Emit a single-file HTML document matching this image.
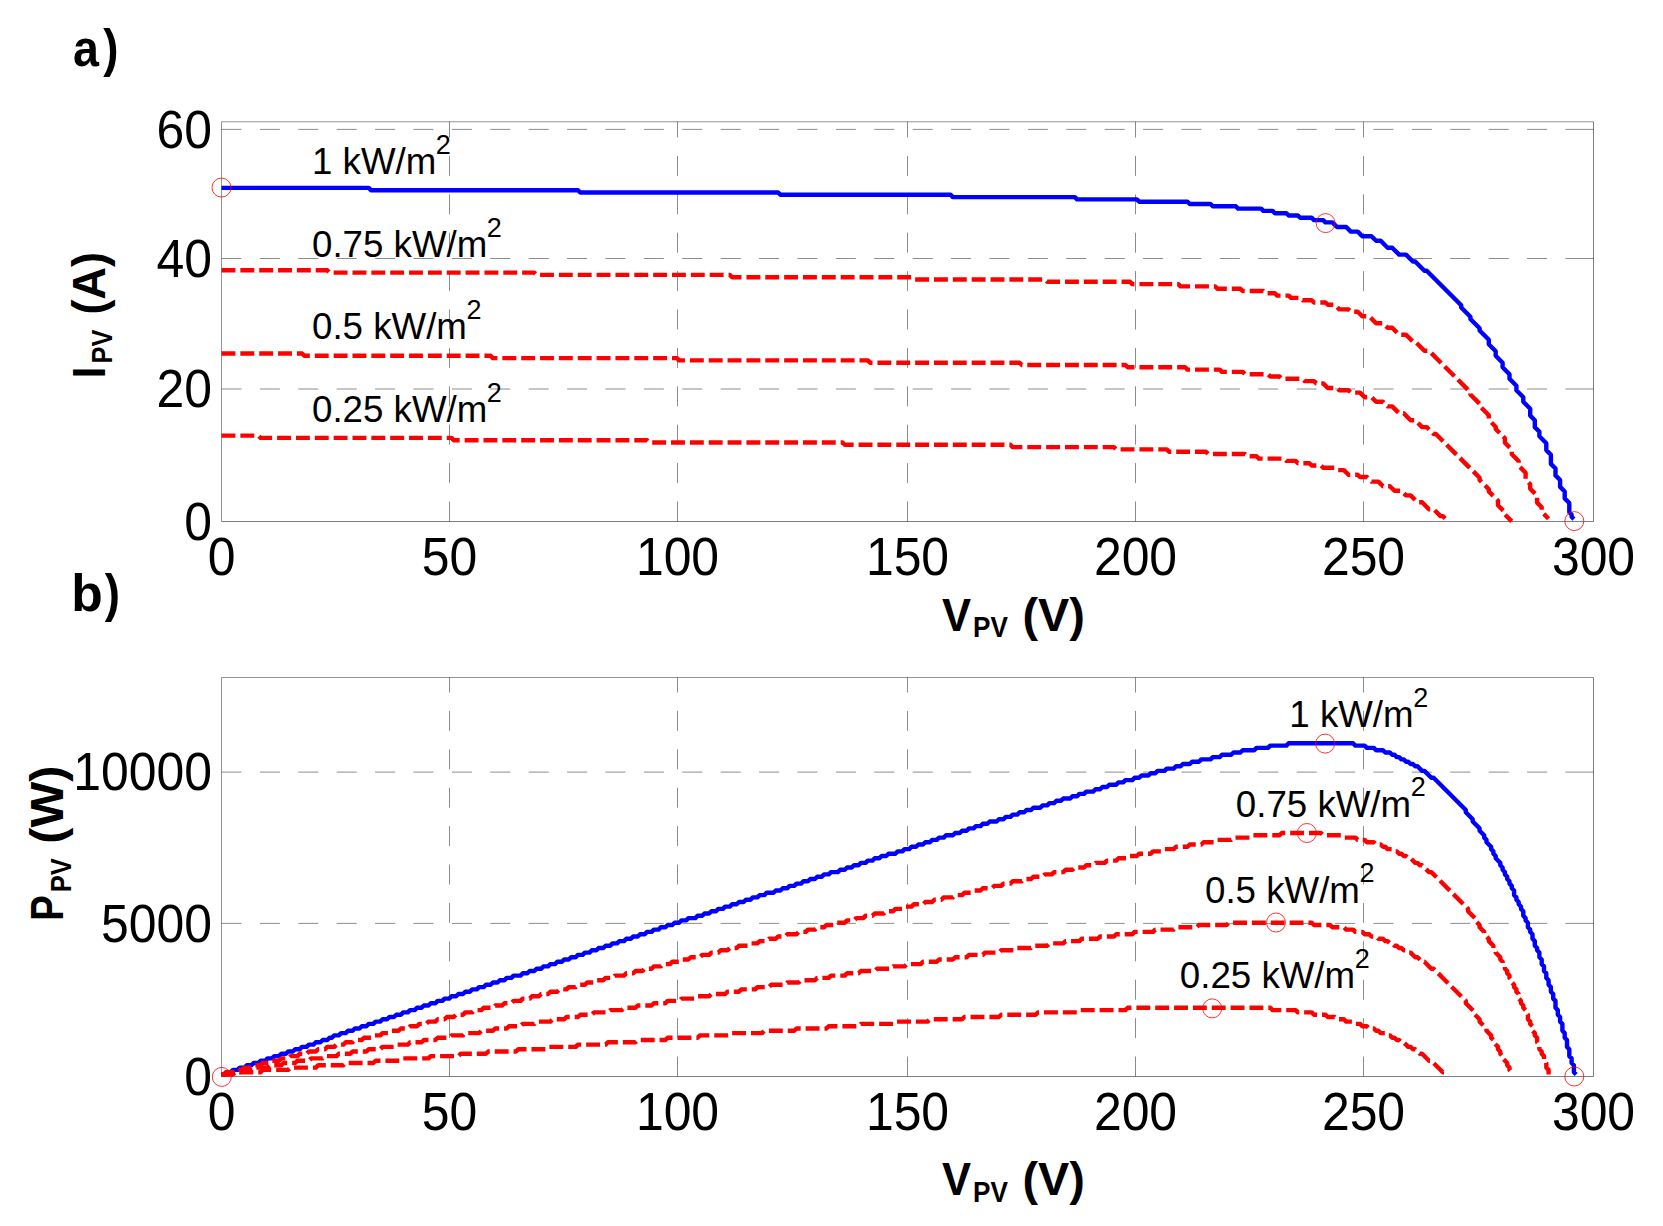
<!DOCTYPE html>
<html><head><meta charset="utf-8"><title>PV characteristics</title>
<style>html,body{margin:0;padding:0;background:#fff}body{width:1663px;height:1226px;overflow:hidden}</style>
</head><body>
<svg width="1663" height="1226" viewBox="0 0 1663 1226" style="display:block">
<rect width="1663" height="1226" fill="#fff"/>
<path d="M449.50 121.75V137.50M449.50 155.90V175.90M449.50 194.30V214.30M449.50 232.70V252.70M449.50 271.10V291.10M449.50 309.50V329.50M449.50 347.90V367.90M449.50 386.30V406.30M449.50 424.70V444.70M449.50 463.10V483.10M449.50 501.50V521.50" stroke="#000" stroke-opacity="0.45" stroke-width="1" fill="none"/>
<path d="M677.50 121.75V137.50M677.50 155.90V175.90M677.50 194.30V214.30M677.50 232.70V252.70M677.50 271.10V291.10M677.50 309.50V329.50M677.50 347.90V367.90M677.50 386.30V406.30M677.50 424.70V444.70M677.50 463.10V483.10M677.50 501.50V521.50" stroke="#000" stroke-opacity="0.45" stroke-width="1" fill="none"/>
<path d="M907.50 121.75V137.50M907.50 155.90V175.90M907.50 194.30V214.30M907.50 232.70V252.70M907.50 271.10V291.10M907.50 309.50V329.50M907.50 347.90V367.90M907.50 386.30V406.30M907.50 424.70V444.70M907.50 463.10V483.10M907.50 501.50V521.50" stroke="#000" stroke-opacity="0.45" stroke-width="1" fill="none"/>
<path d="M1135.50 121.75V137.50M1135.50 155.90V175.90M1135.50 194.30V214.30M1135.50 232.70V252.70M1135.50 271.10V291.10M1135.50 309.50V329.50M1135.50 347.90V367.90M1135.50 386.30V406.30M1135.50 424.70V444.70M1135.50 463.10V483.10M1135.50 501.50V521.50" stroke="#000" stroke-opacity="0.45" stroke-width="1" fill="none"/>
<path d="M1363.50 121.75V137.50M1363.50 155.90V175.90M1363.50 194.30V214.30M1363.50 232.70V252.70M1363.50 271.10V291.10M1363.50 309.50V329.50M1363.50 347.90V367.90M1363.50 386.30V406.30M1363.50 424.70V444.70M1363.50 463.10V483.10M1363.50 501.50V521.50" stroke="#000" stroke-opacity="0.45" stroke-width="1" fill="none"/>
<path d="M221.50 389.00H241.50M259.90 389.00H279.90M298.30 389.00H318.30M336.70 389.00H356.70M375.10 389.00H395.10M413.50 389.00H433.50M451.90 389.00H471.90M490.30 389.00H510.30M528.70 389.00H548.70M567.10 389.00H587.10M605.50 389.00H625.50M643.90 389.00H663.90M682.30 389.00H702.30M720.70 389.00H740.70M759.10 389.00H779.10M797.50 389.00H817.50M835.90 389.00H855.90M874.30 389.00H894.30M912.70 389.00H932.70M951.10 389.00H971.10M989.50 389.00H1009.50M1027.90 389.00H1047.90M1066.30 389.00H1086.30M1104.70 389.00H1124.70M1143.10 389.00H1163.10M1181.50 389.00H1201.50M1219.90 389.00H1239.90M1258.30 389.00H1278.30M1296.70 389.00H1316.70M1335.10 389.00H1355.10M1373.50 389.00H1393.50M1411.90 389.00H1431.90M1450.30 389.00H1470.30M1488.70 389.00H1508.70M1527.10 389.00H1547.10M1565.50 389.00H1593.50" stroke="#000" stroke-opacity="0.45" stroke-width="1" fill="none"/>
<path d="M221.50 258.50H241.50M259.90 258.50H279.90M298.30 258.50H318.30M336.70 258.50H356.70M375.10 258.50H395.10M413.50 258.50H433.50M451.90 258.50H471.90M490.30 258.50H510.30M528.70 258.50H548.70M567.10 258.50H587.10M605.50 258.50H625.50M643.90 258.50H663.90M682.30 258.50H702.30M720.70 258.50H740.70M759.10 258.50H779.10M797.50 258.50H817.50M835.90 258.50H855.90M874.30 258.50H894.30M912.70 258.50H932.70M951.10 258.50H971.10M989.50 258.50H1009.50M1027.90 258.50H1047.90M1066.30 258.50H1086.30M1104.70 258.50H1124.70M1143.10 258.50H1163.10M1181.50 258.50H1201.50M1219.90 258.50H1239.90M1258.30 258.50H1278.30M1296.70 258.50H1316.70M1335.10 258.50H1355.10M1373.50 258.50H1393.50M1411.90 258.50H1431.90M1450.30 258.50H1470.30M1488.70 258.50H1508.70M1527.10 258.50H1547.10M1565.50 258.50H1593.50" stroke="#000" stroke-opacity="0.45" stroke-width="1" fill="none"/>
<path d="M221.50 129.40H241.50M259.90 129.40H279.90M298.30 129.40H318.30M336.70 129.40H356.70M375.10 129.40H395.10M413.50 129.40H433.50M451.90 129.40H471.90M490.30 129.40H510.30M528.70 129.40H548.70M567.10 129.40H587.10M605.50 129.40H625.50M643.90 129.40H663.90M682.30 129.40H702.30M720.70 129.40H740.70M759.10 129.40H779.10M797.50 129.40H817.50M835.90 129.40H855.90M874.30 129.40H894.30M912.70 129.40H932.70M951.10 129.40H971.10M989.50 129.40H1009.50M1027.90 129.40H1047.90M1066.30 129.40H1086.30M1104.70 129.40H1124.70M1143.10 129.40H1163.10M1181.50 129.40H1201.50M1219.90 129.40H1239.90M1258.30 129.40H1278.30M1296.70 129.40H1316.70M1335.10 129.40H1355.10M1373.50 129.40H1393.50M1411.90 129.40H1431.90M1450.30 129.40H1470.30M1488.70 129.40H1508.70M1527.10 129.40H1547.10M1565.50 129.40H1593.50" stroke="#000" stroke-opacity="0.45" stroke-width="1" fill="none"/>
<path d="M221.50 521.50V121.75H1593.50" stroke="#000" stroke-opacity="0.42" stroke-width="1" fill="none"/>
<path d="M221.50 521.50H1593.50V121.75" stroke="#000" stroke-opacity="0.5" stroke-width="1" fill="none"/>
<path d="M449.50 677.50V692.50M449.50 710.90V730.90M449.50 749.30V769.30M449.50 787.70V807.70M449.50 826.10V846.10M449.50 864.50V884.50M449.50 902.90V922.90M449.50 941.30V961.30M449.50 979.70V999.70M449.50 1018.10V1038.10M449.50 1056.50V1076.50" stroke="#000" stroke-opacity="0.45" stroke-width="1" fill="none"/>
<path d="M677.50 677.50V692.50M677.50 710.90V730.90M677.50 749.30V769.30M677.50 787.70V807.70M677.50 826.10V846.10M677.50 864.50V884.50M677.50 902.90V922.90M677.50 941.30V961.30M677.50 979.70V999.70M677.50 1018.10V1038.10M677.50 1056.50V1076.50" stroke="#000" stroke-opacity="0.45" stroke-width="1" fill="none"/>
<path d="M907.50 677.50V692.50M907.50 710.90V730.90M907.50 749.30V769.30M907.50 787.70V807.70M907.50 826.10V846.10M907.50 864.50V884.50M907.50 902.90V922.90M907.50 941.30V961.30M907.50 979.70V999.70M907.50 1018.10V1038.10M907.50 1056.50V1076.50" stroke="#000" stroke-opacity="0.45" stroke-width="1" fill="none"/>
<path d="M1135.50 677.50V692.50M1135.50 710.90V730.90M1135.50 749.30V769.30M1135.50 787.70V807.70M1135.50 826.10V846.10M1135.50 864.50V884.50M1135.50 902.90V922.90M1135.50 941.30V961.30M1135.50 979.70V999.70M1135.50 1018.10V1038.10M1135.50 1056.50V1076.50" stroke="#000" stroke-opacity="0.45" stroke-width="1" fill="none"/>
<path d="M1363.50 677.50V692.50M1363.50 710.90V730.90M1363.50 749.30V769.30M1363.50 787.70V807.70M1363.50 826.10V846.10M1363.50 864.50V884.50M1363.50 902.90V922.90M1363.50 941.30V961.30M1363.50 979.70V999.70M1363.50 1018.10V1038.10M1363.50 1056.50V1076.50" stroke="#000" stroke-opacity="0.45" stroke-width="1" fill="none"/>
<path d="M221.50 923.40H241.50M259.90 923.40H279.90M298.30 923.40H318.30M336.70 923.40H356.70M375.10 923.40H395.10M413.50 923.40H433.50M451.90 923.40H471.90M490.30 923.40H510.30M528.70 923.40H548.70M567.10 923.40H587.10M605.50 923.40H625.50M643.90 923.40H663.90M682.30 923.40H702.30M720.70 923.40H740.70M759.10 923.40H779.10M797.50 923.40H817.50M835.90 923.40H855.90M874.30 923.40H894.30M912.70 923.40H932.70M951.10 923.40H971.10M989.50 923.40H1009.50M1027.90 923.40H1047.90M1066.30 923.40H1086.30M1104.70 923.40H1124.70M1143.10 923.40H1163.10M1181.50 923.40H1201.50M1219.90 923.40H1239.90M1258.30 923.40H1278.30M1296.70 923.40H1316.70M1335.10 923.40H1355.10M1373.50 923.40H1393.50M1411.90 923.40H1431.90M1450.30 923.40H1470.30M1488.70 923.40H1508.70M1527.10 923.40H1547.10M1565.50 923.40H1593.50" stroke="#000" stroke-opacity="0.45" stroke-width="1" fill="none"/>
<path d="M221.50 772.10H241.50M259.90 772.10H279.90M298.30 772.10H318.30M336.70 772.10H356.70M375.10 772.10H395.10M413.50 772.10H433.50M451.90 772.10H471.90M490.30 772.10H510.30M528.70 772.10H548.70M567.10 772.10H587.10M605.50 772.10H625.50M643.90 772.10H663.90M682.30 772.10H702.30M720.70 772.10H740.70M759.10 772.10H779.10M797.50 772.10H817.50M835.90 772.10H855.90M874.30 772.10H894.30M912.70 772.10H932.70M951.10 772.10H971.10M989.50 772.10H1009.50M1027.90 772.10H1047.90M1066.30 772.10H1086.30M1104.70 772.10H1124.70M1143.10 772.10H1163.10M1181.50 772.10H1201.50M1219.90 772.10H1239.90M1258.30 772.10H1278.30M1296.70 772.10H1316.70M1335.10 772.10H1355.10M1373.50 772.10H1393.50M1411.90 772.10H1431.90M1450.30 772.10H1470.30M1488.70 772.10H1508.70M1527.10 772.10H1547.10M1565.50 772.10H1593.50" stroke="#000" stroke-opacity="0.45" stroke-width="1" fill="none"/>
<path d="M221.50 1076.50V677.50H1593.50" stroke="#000" stroke-opacity="0.42" stroke-width="1" fill="none"/>
<path d="M221.50 1076.50H1593.50V677.50" stroke="#000" stroke-opacity="0.5" stroke-width="1" fill="none"/>
<path d="M221.50 187.90 L368.70 187.90 L371.00 190.20 L578.00 190.20 L580.30 192.50 L778.10 192.50 L780.40 194.80 L950.60 194.80 L952.90 197.10 L1074.80 197.10 L1077.10 199.40 L1136.90 199.40 L1139.20 201.70 L1187.50 201.70 L1189.80 204.00 L1210.50 204.00 L1212.80 206.30 L1235.80 206.30 L1238.10 208.60 L1261.10 208.60 L1263.40 210.90 L1272.60 210.90 L1274.90 213.20 L1286.40 213.20 L1288.70 215.50 L1297.90 215.50 L1300.20 217.80 L1311.70 217.80 L1314.00 220.10 L1323.20 220.10 L1325.50 222.40 L1332.40 222.40 L1337.00 227.00 L1346.20 227.00 L1350.80 231.60 L1357.70 231.60 L1362.30 236.20 L1371.50 236.20 L1376.10 240.80 L1380.70 240.80 L1387.60 247.70 L1392.20 247.70 L1399.10 254.60 L1406.00 254.60 L1412.90 261.50 L1415.20 261.50 L1424.40 270.70 L1426.70 270.70 L1461.20 305.20 L1461.20 307.50 L1470.40 316.70 L1470.40 319.00 L1479.60 328.20 L1479.60 330.50 L1488.80 339.70 L1488.80 344.30 L1495.70 351.20 L1495.70 355.80 L1502.60 362.70 L1502.60 367.30 L1509.50 374.20 L1509.50 378.80 L1516.40 385.70 L1516.40 390.30 L1523.30 397.20 L1523.30 401.80 L1530.20 408.70 L1530.20 415.60 L1534.80 420.20 L1534.80 427.10 L1539.40 431.70 L1539.40 436.30 L1546.30 443.20 L1546.30 450.10 L1550.90 454.70 L1550.90 463.90 L1555.50 468.50 L1555.50 475.40 L1560.10 480.00 L1560.10 486.90 L1564.70 491.50 L1564.70 498.40 L1569.30 503.00 L1569.30 512.20 L1571.60 514.50 L1571.60 516.80 L1573.90 519.10" stroke="#0000ff" stroke-width="4.4" fill="none" stroke-linejoin="round"/>
<path d="M221.50 270.30 L327.30 270.30 L329.60 272.60 L534.30 272.60 L536.60 274.90 L729.80 274.90 L732.10 277.20 L911.50 277.20 L913.80 279.50 L1044.90 279.50 L1047.20 281.80 L1130.00 281.80 L1132.30 284.10 L1178.30 284.10 L1180.60 286.40 L1215.10 286.40 L1217.40 288.70 L1240.40 288.70 L1242.70 291.00 L1263.40 291.00 L1265.70 293.30 L1274.90 293.30 L1277.20 295.60 L1288.70 295.60 L1291.00 297.90 L1300.20 297.90 L1302.50 300.20 L1311.70 300.20 L1314.00 302.50 L1325.50 302.50 L1327.80 304.80 L1334.70 304.80 L1339.30 309.40 L1348.50 309.40 L1350.80 311.70 L1357.70 311.70 L1362.30 316.30 L1369.20 316.30 L1376.10 323.20 L1383.00 323.20 L1387.60 327.80 L1392.20 327.80 L1399.10 334.70 L1406.00 334.70 L1412.90 341.60 L1415.20 341.60 L1424.40 350.80 L1429.00 350.80 L1470.40 392.20 L1470.40 394.50 L1479.60 403.70 L1479.60 406.00 L1488.80 415.20 L1488.80 419.80 L1495.70 426.70 L1495.70 429.00 L1504.90 438.20 L1504.90 442.80 L1511.80 449.70 L1511.80 454.30 L1518.70 461.20 L1518.70 465.80 L1525.60 472.70 L1525.60 479.60 L1530.20 484.20 L1530.20 488.80 L1537.10 495.70 L1537.10 502.60 L1541.70 507.20 L1541.70 511.80 L1548.60 518.70" stroke="#ff0000" stroke-width="4.4" fill="none" stroke-linejoin="round" stroke-dasharray="13.9 4.95"/>
<path d="M221.50 353.50 L302.00 353.50 L304.30 355.80 L490.60 355.80 L492.90 358.10 L676.90 358.10 L679.20 360.40 L867.80 360.40 L870.10 362.70 L1019.60 362.70 L1021.90 365.00 L1125.40 365.00 L1127.70 367.30 L1185.20 367.30 L1187.50 369.60 L1219.70 369.60 L1222.00 371.90 L1242.70 371.90 L1245.00 374.20 L1268.00 374.20 L1270.30 376.50 L1279.50 376.50 L1281.80 378.80 L1302.50 378.80 L1304.80 381.10 L1314.00 381.10 L1316.30 383.40 L1323.20 383.40 L1327.80 388.00 L1337.00 388.00 L1339.30 390.30 L1348.50 390.30 L1350.80 392.60 L1360.00 392.60 L1364.60 397.20 L1371.50 397.20 L1376.10 401.80 L1383.00 401.80 L1387.60 406.40 L1392.20 406.40 L1399.10 413.30 L1403.70 413.30 L1410.60 420.20 L1415.20 420.20 L1422.10 427.10 L1426.70 427.10 L1433.60 434.00 L1435.90 434.00 L1479.60 477.70 L1479.60 480.00 L1488.80 489.20 L1488.80 491.50 L1498.00 500.70 L1498.00 505.30 L1504.90 512.20 L1504.90 514.50 L1511.80 521.40" stroke="#ff0000" stroke-width="4.4" fill="none" stroke-linejoin="round" stroke-dasharray="13.9 4.95"/>
<path d="M221.50 435.60 L258.30 435.60 L260.60 437.90 L451.50 437.90 L453.80 440.20 L647.00 440.20 L649.30 442.50 L842.50 442.50 L844.80 444.80 L1010.40 444.80 L1012.70 447.10 L1113.90 447.10 L1116.20 449.40 L1166.80 449.40 L1169.10 451.70 L1205.90 451.70 L1208.20 454.00 L1245.00 454.00 L1247.30 456.30 L1256.50 456.30 L1258.80 458.60 L1284.10 458.60 L1286.40 460.90 L1295.60 460.90 L1297.90 463.20 L1309.40 463.20 L1311.70 465.50 L1320.90 465.50 L1323.20 467.80 L1334.70 467.80 L1337.00 470.10 L1343.90 470.10 L1348.50 474.70 L1357.70 474.70 L1360.00 477.00 L1366.90 477.00 L1371.50 481.60 L1378.40 481.60 L1383.00 486.20 L1389.90 486.20 L1394.50 490.80 L1401.40 490.80 L1406.00 495.40 L1410.60 495.40 L1417.50 502.30 L1422.10 502.30 L1429.00 509.20 L1433.60 509.20 L1440.50 516.10 L1442.80 516.10 L1447.40 520.70" stroke="#ff0000" stroke-width="4.4" fill="none" stroke-linejoin="round" stroke-dasharray="13.9 4.95"/>
<path d="M221.50 1074.50 L223.80 1074.50 L226.10 1072.20 L230.70 1072.20 L233.00 1069.90 L237.60 1069.90 L239.90 1067.60 L244.50 1067.60 L246.80 1065.30 L251.40 1065.30 L253.70 1063.00 L258.30 1063.00 L260.60 1060.70 L265.20 1060.70 L267.50 1058.40 L272.10 1058.40 L274.40 1056.10 L279.00 1056.10 L281.30 1053.80 L285.90 1053.80 L288.20 1051.50 L292.80 1051.50 L295.10 1049.20 L299.70 1049.20 L302.00 1046.90 L306.60 1046.90 L308.90 1044.60 L313.50 1044.60 L315.80 1042.30 L320.40 1042.30 L322.70 1040.00 L327.30 1040.00 L329.60 1037.70 L331.90 1037.70 L334.20 1035.40 L338.80 1035.40 L341.10 1033.10 L345.70 1033.10 L348.00 1030.80 L352.60 1030.80 L354.90 1028.50 L359.50 1028.50 L361.80 1026.20 L366.40 1026.20 L368.70 1023.90 L373.30 1023.90 L375.60 1021.60 L380.20 1021.60 L382.50 1019.30 L387.10 1019.30 L389.40 1017.00 L394.00 1017.00 L396.30 1014.70 L400.90 1014.70 L403.20 1012.40 L407.80 1012.40 L410.10 1010.10 L414.70 1010.10 L417.00 1007.80 L421.60 1007.80 L423.90 1005.50 L428.50 1005.50 L430.80 1003.20 L435.40 1003.20 L437.70 1000.90 L442.30 1000.90 L444.60 998.60 L449.20 998.60 L451.50 996.30 L456.10 996.30 L458.40 994.00 L463.00 994.00 L465.30 991.70 L469.90 991.70 L472.20 989.40 L476.80 989.40 L479.10 987.10 L483.70 987.10 L486.00 984.80 L490.60 984.80 L492.90 982.50 L497.50 982.50 L499.80 980.20 L504.40 980.20 L506.70 977.90 L511.30 977.90 L513.60 975.60 L520.50 975.60 L522.80 973.30 L527.40 973.30 L529.70 971.00 L534.30 971.00 L536.60 968.70 L541.20 968.70 L543.50 966.40 L548.10 966.40 L550.40 964.10 L555.00 964.10 L557.30 961.80 L561.90 961.80 L564.20 959.50 L568.80 959.50 L571.10 957.20 L575.70 957.20 L578.00 954.90 L582.60 954.90 L584.90 952.60 L589.50 952.60 L591.80 950.30 L596.40 950.30 L598.70 948.00 L603.30 948.00 L605.60 945.70 L610.20 945.70 L612.50 943.40 L617.10 943.40 L619.40 941.10 L624.00 941.10 L626.30 938.80 L630.90 938.80 L633.20 936.50 L637.80 936.50 L640.10 934.20 L644.70 934.20 L647.00 931.90 L651.60 931.90 L653.90 929.60 L658.50 929.60 L660.80 927.30 L665.40 927.30 L667.70 925.00 L672.30 925.00 L674.60 922.70 L679.20 922.70 L681.50 920.40 L686.10 920.40 L688.40 918.10 L695.30 918.10 L697.60 915.80 L702.20 915.80 L704.50 913.50 L709.10 913.50 L711.40 911.20 L716.00 911.20 L718.30 908.90 L722.90 908.90 L725.20 906.60 L729.80 906.60 L732.10 904.30 L736.70 904.30 L739.00 902.00 L743.60 902.00 L745.90 899.70 L750.50 899.70 L752.80 897.40 L757.40 897.40 L759.70 895.10 L764.30 895.10 L766.60 892.80 L773.50 892.80 L775.80 890.50 L780.40 890.50 L782.70 888.20 L787.30 888.20 L789.60 885.90 L794.20 885.90 L796.50 883.60 L801.10 883.60 L803.40 881.30 L808.00 881.30 L810.30 879.00 L814.90 879.00 L817.20 876.70 L821.80 876.70 L824.10 874.40 L828.70 874.40 L831.00 872.10 L837.90 872.10 L840.20 869.80 L844.80 869.80 L847.10 867.50 L851.70 867.50 L854.00 865.20 L858.60 865.20 L860.90 862.90 L865.50 862.90 L867.80 860.60 L872.40 860.60 L874.70 858.30 L879.30 858.30 L881.60 856.00 L886.20 856.00 L888.50 853.70 L895.40 853.70 L897.70 851.40 L902.30 851.40 L904.60 849.10 L909.20 849.10 L911.50 846.80 L916.10 846.80 L918.40 844.50 L923.00 844.50 L925.30 842.20 L929.90 842.20 L932.20 839.90 L936.80 839.90 L939.10 837.60 L943.70 837.60 L946.00 835.30 L952.90 835.30 L955.20 833.00 L959.80 833.00 L962.10 830.70 L966.70 830.70 L969.00 828.40 L973.60 828.40 L975.90 826.10 L980.50 826.10 L982.80 823.80 L987.40 823.80 L989.70 821.50 L996.60 821.50 L998.90 819.20 L1003.50 819.20 L1005.80 816.90 L1010.40 816.90 L1012.70 814.60 L1017.30 814.60 L1019.60 812.30 L1024.20 812.30 L1026.50 810.00 L1031.10 810.00 L1033.40 807.70 L1040.30 807.70 L1042.60 805.40 L1047.20 805.40 L1049.50 803.10 L1054.10 803.10 L1056.40 800.80 L1061.00 800.80 L1063.30 798.50 L1070.20 798.50 L1072.50 796.20 L1077.10 796.20 L1079.40 793.90 L1084.00 793.90 L1086.30 791.60 L1093.20 791.60 L1095.50 789.30 L1100.10 789.30 L1102.40 787.00 L1107.00 787.00 L1109.30 784.70 L1116.20 784.70 L1118.50 782.40 L1123.10 782.40 L1125.40 780.10 L1132.30 780.10 L1134.60 777.80 L1139.20 777.80 L1141.50 775.50 L1148.40 775.50 L1150.70 773.20 L1155.30 773.20 L1157.60 770.90 L1164.50 770.90 L1166.80 768.60 L1173.70 768.60 L1176.00 766.30 L1180.60 766.30 L1182.90 764.00 L1189.80 764.00 L1192.10 761.70 L1199.00 761.70 L1201.30 759.40 L1210.50 759.40 L1212.80 757.10 L1219.70 757.10 L1222.00 754.80 L1231.20 754.80 L1233.50 752.50 L1240.40 752.50 L1242.70 750.20 L1254.20 750.20 L1256.50 747.90 L1268.00 747.90 L1270.30 745.60 L1286.40 745.60 L1288.70 743.30 L1353.10 743.30 L1355.40 745.60 L1364.60 745.60 L1366.90 747.90 L1373.80 747.90 L1376.10 750.20 L1383.00 750.20 L1385.30 752.50 L1389.90 752.50 L1392.20 754.80 L1394.50 754.80 L1396.80 757.10 L1399.10 757.10 L1401.40 759.40 L1403.70 759.40 L1406.00 761.70 L1408.30 761.70 L1410.60 764.00 L1412.90 764.00 L1415.20 766.30 L1417.50 766.30 L1422.10 770.90 L1424.40 770.90 L1431.30 777.80 L1433.60 777.80 L1465.80 810.00 L1465.80 812.30 L1472.70 819.20 L1472.70 821.50 L1479.60 828.40 L1479.60 830.70 L1484.20 835.30 L1484.20 837.60 L1486.50 839.90 L1486.50 842.20 L1491.10 846.80 L1491.10 849.10 L1493.40 851.40 L1493.40 853.70 L1495.70 856.00 L1495.70 858.30 L1500.30 862.90 L1500.30 865.20 L1502.60 867.50 L1502.60 869.80 L1504.90 872.10 L1504.90 874.40 L1507.20 876.70 L1507.20 879.00 L1509.50 881.30 L1509.50 883.60 L1511.80 885.90 L1511.80 888.20 L1514.10 890.50 L1514.10 895.10 L1516.40 897.40 L1516.40 899.70 L1518.70 902.00 L1518.70 904.30 L1521.00 906.60 L1521.00 908.90 L1523.30 911.20 L1523.30 915.80 L1525.60 918.10 L1525.60 920.40 L1527.90 922.70 L1527.90 927.30 L1530.20 929.60 L1530.20 931.90 L1532.50 934.20 L1532.50 938.80 L1534.80 941.10 L1534.80 945.70 L1537.10 948.00 L1537.10 950.30 L1539.40 952.60 L1539.40 957.20 L1541.70 959.50 L1541.70 964.10 L1544.00 966.40 L1544.00 971.00 L1546.30 973.30 L1546.30 977.90 L1548.60 980.20 L1548.60 984.80 L1550.90 987.10 L1550.90 991.70 L1553.20 994.00 L1553.20 998.60 L1555.50 1000.90 L1555.50 1007.80 L1557.80 1010.10 L1557.80 1014.70 L1560.10 1017.00 L1560.10 1021.60 L1562.40 1023.90 L1562.40 1030.80 L1564.70 1033.10 L1564.70 1037.70 L1567.00 1040.00 L1567.00 1046.90 L1569.30 1049.20 L1569.30 1056.10 L1571.60 1058.40 L1571.60 1063.00 L1573.90 1065.30 L1573.90 1072.20 L1576.20 1074.50" stroke="#0000ff" stroke-width="4.4" fill="none" stroke-linejoin="round"/>
<path d="M221.50 1074.50 L223.80 1074.50 L226.10 1072.20 L233.00 1072.20 L235.30 1069.90 L242.20 1069.90 L244.50 1067.60 L251.40 1067.60 L253.70 1065.30 L260.60 1065.30 L262.90 1063.00 L269.80 1063.00 L272.10 1060.70 L279.00 1060.70 L281.30 1058.40 L288.20 1058.40 L290.50 1056.10 L297.40 1056.10 L299.70 1053.80 L306.60 1053.80 L308.90 1051.50 L315.80 1051.50 L318.10 1049.20 L325.00 1049.20 L327.30 1046.90 L334.20 1046.90 L336.50 1044.60 L343.40 1044.60 L345.70 1042.30 L352.60 1042.30 L354.90 1040.00 L361.80 1040.00 L364.10 1037.70 L371.00 1037.70 L373.30 1035.40 L380.20 1035.40 L382.50 1033.10 L389.40 1033.10 L391.70 1030.80 L398.60 1030.80 L400.90 1028.50 L407.80 1028.50 L410.10 1026.20 L417.00 1026.20 L419.30 1023.90 L426.20 1023.90 L428.50 1021.60 L435.40 1021.60 L437.70 1019.30 L444.60 1019.30 L446.90 1017.00 L453.80 1017.00 L456.10 1014.70 L463.00 1014.70 L465.30 1012.40 L472.20 1012.40 L474.50 1010.10 L481.40 1010.10 L483.70 1007.80 L492.90 1007.80 L495.20 1005.50 L502.10 1005.50 L504.40 1003.20 L511.30 1003.20 L513.60 1000.90 L520.50 1000.90 L522.80 998.60 L529.70 998.60 L532.00 996.30 L538.90 996.30 L541.20 994.00 L548.10 994.00 L550.40 991.70 L557.30 991.70 L559.60 989.40 L566.50 989.40 L568.80 987.10 L575.70 987.10 L578.00 984.80 L584.90 984.80 L587.20 982.50 L594.10 982.50 L596.40 980.20 L603.30 980.20 L605.60 977.90 L612.50 977.90 L614.80 975.60 L624.00 975.60 L626.30 973.30 L633.20 973.30 L635.50 971.00 L642.40 971.00 L644.70 968.70 L651.60 968.70 L653.90 966.40 L660.80 966.40 L663.10 964.10 L670.00 964.10 L672.30 961.80 L679.20 961.80 L681.50 959.50 L688.40 959.50 L690.70 957.20 L699.90 957.20 L702.20 954.90 L709.10 954.90 L711.40 952.60 L718.30 952.60 L720.60 950.30 L727.50 950.30 L729.80 948.00 L736.70 948.00 L739.00 945.70 L748.20 945.70 L750.50 943.40 L757.40 943.40 L759.70 941.10 L766.60 941.10 L768.90 938.80 L775.80 938.80 L778.10 936.50 L785.00 936.50 L787.30 934.20 L796.50 934.20 L798.80 931.90 L805.70 931.90 L808.00 929.60 L814.90 929.60 L817.20 927.30 L824.10 927.30 L826.40 925.00 L833.30 925.00 L835.60 922.70 L844.80 922.70 L847.10 920.40 L854.00 920.40 L856.30 918.10 L863.20 918.10 L865.50 915.80 L872.40 915.80 L874.70 913.50 L883.90 913.50 L886.20 911.20 L893.10 911.20 L895.40 908.90 L902.30 908.90 L904.60 906.60 L911.50 906.60 L913.80 904.30 L923.00 904.30 L925.30 902.00 L932.20 902.00 L934.50 899.70 L941.40 899.70 L943.70 897.40 L952.90 897.40 L955.20 895.10 L962.10 895.10 L964.40 892.80 L971.30 892.80 L973.60 890.50 L980.50 890.50 L982.80 888.20 L992.00 888.20 L994.30 885.90 L1001.20 885.90 L1003.50 883.60 L1010.40 883.60 L1012.70 881.30 L1021.90 881.30 L1024.20 879.00 L1031.10 879.00 L1033.40 876.70 L1042.60 876.70 L1044.90 874.40 L1051.80 874.40 L1054.10 872.10 L1063.30 872.10 L1065.60 869.80 L1072.50 869.80 L1074.80 867.50 L1084.00 867.50 L1086.30 865.20 L1093.20 865.20 L1095.50 862.90 L1104.70 862.90 L1107.00 860.60 L1116.20 860.60 L1118.50 858.30 L1127.70 858.30 L1130.00 856.00 L1136.90 856.00 L1139.20 853.70 L1150.70 853.70 L1153.00 851.40 L1162.20 851.40 L1164.50 849.10 L1173.70 849.10 L1176.00 846.80 L1187.50 846.80 L1189.80 844.50 L1201.30 844.50 L1203.60 842.20 L1215.10 842.20 L1217.40 839.90 L1231.20 839.90 L1233.50 837.60 L1249.60 837.60 L1251.90 835.30 L1279.50 835.30 L1281.80 833.00 L1320.90 833.00 L1323.20 835.30 L1341.60 835.30 L1343.90 837.60 L1355.40 837.60 L1357.70 839.90 L1364.60 839.90 L1366.90 842.20 L1373.80 842.20 L1376.10 844.50 L1380.70 844.50 L1383.00 846.80 L1385.30 846.80 L1387.60 849.10 L1392.20 849.10 L1394.50 851.40 L1396.80 851.40 L1399.10 853.70 L1401.40 853.70 L1403.70 856.00 L1406.00 856.00 L1408.30 858.30 L1410.60 858.30 L1415.20 862.90 L1417.50 862.90 L1419.80 865.20 L1422.10 865.20 L1429.00 872.10 L1431.30 872.10 L1468.10 908.90 L1468.10 911.20 L1475.00 918.10 L1475.00 920.40 L1479.60 925.00 L1479.60 927.30 L1484.20 931.90 L1484.20 934.20 L1488.80 938.80 L1488.80 941.10 L1493.40 945.70 L1493.40 948.00 L1495.70 950.30 L1495.70 952.60 L1500.30 957.20 L1500.30 959.50 L1502.60 961.80 L1502.60 964.10 L1504.90 966.40 L1504.90 968.70 L1507.20 971.00 L1507.20 973.30 L1509.50 975.60 L1509.50 977.90 L1511.80 980.20 L1511.80 982.50 L1514.10 984.80 L1514.10 987.10 L1516.40 989.40 L1516.40 991.70 L1518.70 994.00 L1518.70 998.60 L1521.00 1000.90 L1521.00 1003.20 L1523.30 1005.50 L1523.30 1007.80 L1525.60 1010.10 L1525.60 1012.40 L1527.90 1014.70 L1527.90 1019.30 L1530.20 1021.60 L1530.20 1023.90 L1532.50 1026.20 L1532.50 1030.80 L1534.80 1033.10 L1534.80 1035.40 L1537.10 1037.70 L1537.10 1042.30 L1539.40 1044.60 L1539.40 1049.20 L1541.70 1051.50 L1541.70 1053.80 L1544.00 1056.10 L1544.00 1060.70 L1546.30 1063.00 L1546.30 1067.60 L1548.60 1069.90 L1548.60 1074.50" stroke="#ff0000" stroke-width="4.4" fill="none" stroke-linejoin="round" stroke-dasharray="13.9 4.95"/>
<path d="M221.50 1074.50 L226.10 1074.50 L228.40 1072.20 L239.90 1072.20 L242.20 1069.90 L253.70 1069.90 L256.00 1067.60 L267.50 1067.60 L269.80 1065.30 L281.30 1065.30 L283.60 1063.00 L295.10 1063.00 L297.40 1060.70 L308.90 1060.70 L311.20 1058.40 L322.70 1058.40 L325.00 1056.10 L336.50 1056.10 L338.80 1053.80 L350.30 1053.80 L352.60 1051.50 L366.40 1051.50 L368.70 1049.20 L380.20 1049.20 L382.50 1046.90 L394.00 1046.90 L396.30 1044.60 L407.80 1044.60 L410.10 1042.30 L421.60 1042.30 L423.90 1040.00 L435.40 1040.00 L437.70 1037.70 L449.20 1037.70 L451.50 1035.40 L463.00 1035.40 L465.30 1033.10 L479.10 1033.10 L481.40 1030.80 L492.90 1030.80 L495.20 1028.50 L506.70 1028.50 L509.00 1026.20 L520.50 1026.20 L522.80 1023.90 L534.30 1023.90 L536.60 1021.60 L550.40 1021.60 L552.70 1019.30 L564.20 1019.30 L566.50 1017.00 L578.00 1017.00 L580.30 1014.70 L591.80 1014.70 L594.10 1012.40 L607.90 1012.40 L610.20 1010.10 L621.70 1010.10 L624.00 1007.80 L635.50 1007.80 L637.80 1005.50 L651.60 1005.50 L653.90 1003.20 L665.40 1003.20 L667.70 1000.90 L679.20 1000.90 L681.50 998.60 L695.30 998.60 L697.60 996.30 L709.10 996.30 L711.40 994.00 L725.20 994.00 L727.50 991.70 L739.00 991.70 L741.30 989.40 L755.10 989.40 L757.40 987.10 L768.90 987.10 L771.20 984.80 L785.00 984.80 L787.30 982.50 L798.80 982.50 L801.10 980.20 L814.90 980.20 L817.20 977.90 L828.70 977.90 L831.00 975.60 L844.80 975.60 L847.10 973.30 L858.60 973.30 L860.90 971.00 L874.70 971.00 L877.00 968.70 L890.80 968.70 L893.10 966.40 L904.60 966.40 L906.90 964.10 L920.70 964.10 L923.00 961.80 L936.80 961.80 L939.10 959.50 L952.90 959.50 L955.20 957.20 L966.70 957.20 L969.00 954.90 L982.80 954.90 L985.10 952.60 L998.90 952.60 L1001.20 950.30 L1015.00 950.30 L1017.30 948.00 L1031.10 948.00 L1033.40 945.70 L1047.20 945.70 L1049.50 943.40 L1063.30 943.40 L1065.60 941.10 L1079.40 941.10 L1081.70 938.80 L1097.80 938.80 L1100.10 936.50 L1113.90 936.50 L1116.20 934.20 L1132.30 934.20 L1134.60 931.90 L1153.00 931.90 L1155.30 929.60 L1173.70 929.60 L1176.00 927.30 L1196.70 927.30 L1199.00 925.00 L1226.60 925.00 L1228.90 922.70 L1311.70 922.70 L1314.00 925.00 L1330.10 925.00 L1332.40 927.30 L1343.90 927.30 L1346.20 929.60 L1353.10 929.60 L1355.40 931.90 L1362.30 931.90 L1364.60 934.20 L1369.20 934.20 L1371.50 936.50 L1376.10 936.50 L1378.40 938.80 L1383.00 938.80 L1385.30 941.10 L1387.60 941.10 L1389.90 943.40 L1392.20 943.40 L1394.50 945.70 L1396.80 945.70 L1399.10 948.00 L1401.40 948.00 L1403.70 950.30 L1406.00 950.30 L1408.30 952.60 L1410.60 952.60 L1415.20 957.20 L1417.50 957.20 L1422.10 961.80 L1424.40 961.80 L1431.30 968.70 L1433.60 968.70 L1465.80 1000.90 L1465.80 1003.20 L1475.00 1012.40 L1475.00 1014.70 L1479.60 1019.30 L1479.60 1021.60 L1486.50 1028.50 L1486.50 1030.80 L1491.10 1035.40 L1491.10 1037.70 L1493.40 1040.00 L1493.40 1042.30 L1498.00 1046.90 L1498.00 1049.20 L1500.30 1051.50 L1500.30 1053.80 L1502.60 1056.10 L1502.60 1058.40 L1507.20 1063.00 L1507.20 1065.30 L1509.50 1067.60 L1509.50 1069.90 L1511.80 1072.20 L1511.80 1074.50" stroke="#ff0000" stroke-width="4.4" fill="none" stroke-linejoin="round" stroke-dasharray="13.9 4.95"/>
<path d="M221.50 1074.50 L233.00 1074.50 L235.30 1072.20 L260.60 1072.20 L262.90 1069.90 L288.20 1069.90 L290.50 1067.60 L315.80 1067.60 L318.10 1065.30 L343.40 1065.30 L345.70 1063.00 L373.30 1063.00 L375.60 1060.70 L400.90 1060.70 L403.20 1058.40 L428.50 1058.40 L430.80 1056.10 L458.40 1056.10 L460.70 1053.80 L486.00 1053.80 L488.30 1051.50 L515.90 1051.50 L518.20 1049.20 L545.80 1049.20 L548.10 1046.90 L575.70 1046.90 L578.00 1044.60 L605.60 1044.60 L607.90 1042.30 L635.50 1042.30 L637.80 1040.00 L665.40 1040.00 L667.70 1037.70 L697.60 1037.70 L699.90 1035.40 L729.80 1035.40 L732.10 1033.10 L762.00 1033.10 L764.30 1030.80 L794.20 1030.80 L796.50 1028.50 L826.40 1028.50 L828.70 1026.20 L858.60 1026.20 L860.90 1023.90 L893.10 1023.90 L895.40 1021.60 L927.60 1021.60 L929.90 1019.30 L962.10 1019.30 L964.40 1017.00 L998.90 1017.00 L1001.20 1014.70 L1035.70 1014.70 L1038.00 1012.40 L1077.10 1012.40 L1079.40 1010.10 L1125.40 1010.10 L1127.70 1007.80 L1270.30 1007.80 L1272.60 1010.10 L1295.60 1010.10 L1297.90 1012.40 L1311.70 1012.40 L1314.00 1014.70 L1325.50 1014.70 L1327.80 1017.00 L1334.70 1017.00 L1337.00 1019.30 L1343.90 1019.30 L1346.20 1021.60 L1353.10 1021.60 L1355.40 1023.90 L1360.00 1023.90 L1362.30 1026.20 L1366.90 1026.20 L1369.20 1028.50 L1373.80 1028.50 L1376.10 1030.80 L1378.40 1030.80 L1380.70 1033.10 L1385.30 1033.10 L1387.60 1035.40 L1389.90 1035.40 L1392.20 1037.70 L1394.50 1037.70 L1396.80 1040.00 L1399.10 1040.00 L1401.40 1042.30 L1403.70 1042.30 L1408.30 1046.90 L1410.60 1046.90 L1412.90 1049.20 L1415.20 1049.20 L1419.80 1053.80 L1422.10 1053.80 L1429.00 1060.70 L1431.30 1060.70 L1442.80 1072.20 L1445.10 1072.20" stroke="#ff0000" stroke-width="4.4" fill="none" stroke-linejoin="round" stroke-dasharray="13.9 4.95"/>
<circle cx="221.5" cy="187.6" r="9.5" fill="none" stroke="#ff0000" stroke-width="0.8"/>
<circle cx="1325.6" cy="223.1" r="9.5" fill="none" stroke="#ff0000" stroke-width="0.8"/>
<circle cx="1574.3" cy="521.1" r="9.5" fill="none" stroke="#ff0000" stroke-width="0.8"/>
<circle cx="221.8" cy="1076.9" r="9.5" fill="none" stroke="#ff0000" stroke-width="0.8"/>
<circle cx="1325.1" cy="743.6" r="9.5" fill="none" stroke="#ff0000" stroke-width="0.8"/>
<circle cx="1306.9" cy="833.0" r="9.5" fill="none" stroke="#ff0000" stroke-width="0.8"/>
<circle cx="1276.0" cy="922.5" r="9.5" fill="none" stroke="#ff0000" stroke-width="0.8"/>
<circle cx="1212.2" cy="1008.4" r="9.5" fill="none" stroke="#ff0000" stroke-width="0.8"/>
<circle cx="1574.3" cy="1076.5" r="9.5" fill="none" stroke="#ff0000" stroke-width="0.8"/>
<g font-family="Liberation Sans, Arial, sans-serif" fill="#000">
<text transform="translate(221.5 574.8) scale(0.915 1)" font-size="54.5" text-anchor="middle">0</text>
<text transform="translate(221.5 1130) scale(0.915 1)" font-size="54.5" text-anchor="middle">0</text>
<text transform="translate(449.5 574.8) scale(0.915 1)" font-size="54.5" text-anchor="middle">50</text>
<text transform="translate(449.5 1130) scale(0.915 1)" font-size="54.5" text-anchor="middle">50</text>
<text transform="translate(677.5 574.8) scale(0.915 1)" font-size="54.5" text-anchor="middle">100</text>
<text transform="translate(677.5 1130) scale(0.915 1)" font-size="54.5" text-anchor="middle">100</text>
<text transform="translate(907.5 574.8) scale(0.915 1)" font-size="54.5" text-anchor="middle">150</text>
<text transform="translate(907.5 1130) scale(0.915 1)" font-size="54.5" text-anchor="middle">150</text>
<text transform="translate(1135.5 574.8) scale(0.915 1)" font-size="54.5" text-anchor="middle">200</text>
<text transform="translate(1135.5 1130) scale(0.915 1)" font-size="54.5" text-anchor="middle">200</text>
<text transform="translate(1363.5 574.8) scale(0.915 1)" font-size="54.5" text-anchor="middle">250</text>
<text transform="translate(1363.5 1130) scale(0.915 1)" font-size="54.5" text-anchor="middle">250</text>
<text transform="translate(1593.5 574.8) scale(0.915 1)" font-size="54.5" text-anchor="middle">300</text>
<text transform="translate(1593.5 1130) scale(0.915 1)" font-size="54.5" text-anchor="middle">300</text>
<text transform="translate(212 539.8) scale(0.915 1)" font-size="54.5" text-anchor="end">0</text>
<text transform="translate(212 407.3) scale(0.915 1)" font-size="54.5" text-anchor="end">20</text>
<text transform="translate(212 276.8) scale(0.915 1)" font-size="54.5" text-anchor="end">40</text>
<text transform="translate(212 147.7) scale(0.915 1)" font-size="54.5" text-anchor="end">60</text>
<text transform="translate(212 1094.8) scale(0.915 1)" font-size="54.5" text-anchor="end">0</text>
<text transform="translate(212 941.7) scale(0.915 1)" font-size="54.5" text-anchor="end">5000</text>
<text transform="translate(212 790.4) scale(0.915 1)" font-size="54.5" text-anchor="end">10000</text>
<text x="312" y="173.9" font-size="36.7">1 kW/m<tspan font-size="27" dy="-20.3" dx="-0.5">2</tspan></text>
<text x="312" y="257" font-size="36.7">0.75 kW/m<tspan font-size="27" dy="-20.3" dx="-0.5">2</tspan></text>
<text x="312" y="338.8" font-size="36.7">0.5 kW/m<tspan font-size="27" dy="-20.3" dx="-0.5">2</tspan></text>
<text x="312" y="422.1" font-size="36.7">0.25 kW/m<tspan font-size="27" dy="-20.3" dx="-0.5">2</tspan></text>
<text x="1289.3" y="727.3" font-size="36.7">1 kW/m<tspan font-size="27" dy="-20.3" dx="-0.5">2</tspan></text>
<text x="1235.8" y="816.7" font-size="36.7">0.75 kW/m<tspan font-size="27" dy="-20.3" dx="-0.5">2</tspan></text>
<text x="1205" y="902.6" font-size="36.7">0.5 kW/m<tspan font-size="27" dy="-20.3" dx="-0.5">2</tspan></text>
<text x="1179.8" y="987.8" font-size="36.7">0.25 kW/m<tspan font-size="27" dy="-20.3" dx="-0.5">2</tspan></text>
<text font-size="52" font-weight="bold"><tspan x="73.00" y="65.80" textLength="25.93" lengthAdjust="spacingAndGlyphs">a</tspan><tspan x="103.20" y="65.80" textLength="15.24" lengthAdjust="spacingAndGlyphs">)</tspan></text>
<text font-size="52" font-weight="bold"><tspan x="71.22" y="610.80" textLength="31.53" lengthAdjust="spacingAndGlyphs">b</tspan><tspan x="104.70" y="610.80" textLength="15.24" lengthAdjust="spacingAndGlyphs">)</tspan></text>
<text font-size="47" font-weight="bold"><tspan x="942.00" y="630.50" textLength="29.07" lengthAdjust="spacingAndGlyphs">V</tspan><tspan x="973.10" y="636.75" font-size="29" textLength="34.87" lengthAdjust="spacingAndGlyphs">PV</tspan><tspan x="1009.50" y="630.50" font-size="47" textLength="75.40" lengthAdjust="spacingAndGlyphs"> (V)</tspan></text>
<text font-size="47" font-weight="bold"><tspan x="942.00" y="1195.00" textLength="29.07" lengthAdjust="spacingAndGlyphs">V</tspan><tspan x="973.10" y="1202.00" font-size="29" textLength="34.87" lengthAdjust="spacingAndGlyphs">PV</tspan><tspan x="1009.50" y="1195.00" font-size="47" textLength="75.40" lengthAdjust="spacingAndGlyphs"> (V)</tspan></text>
<text transform="translate(104.5 375.6) rotate(-90)" font-size="47" font-weight="bold"><tspan x="-2.66" y="0.00" textLength="11.57" lengthAdjust="spacingAndGlyphs">I</tspan><tspan x="12.22" y="7.30" font-size="29" textLength="33.90" lengthAdjust="spacingAndGlyphs">PV</tspan><tspan x="48.73" y="0.00" font-size="47" textLength="74.72" lengthAdjust="spacingAndGlyphs"> (A)</tspan></text>
<text transform="translate(63.2 918.2) rotate(-90)" font-size="47" font-weight="bold"><tspan x="-2.44" y="0.00" textLength="25.54" lengthAdjust="spacingAndGlyphs">P</tspan><tspan x="26.02" y="8.20" font-size="29" textLength="34.00" lengthAdjust="spacingAndGlyphs">PV</tspan><tspan x="61.06" y="0.00" font-size="47" textLength="91.57" lengthAdjust="spacingAndGlyphs"> (W)</tspan></text>
</g>
</svg>
</body></html>
